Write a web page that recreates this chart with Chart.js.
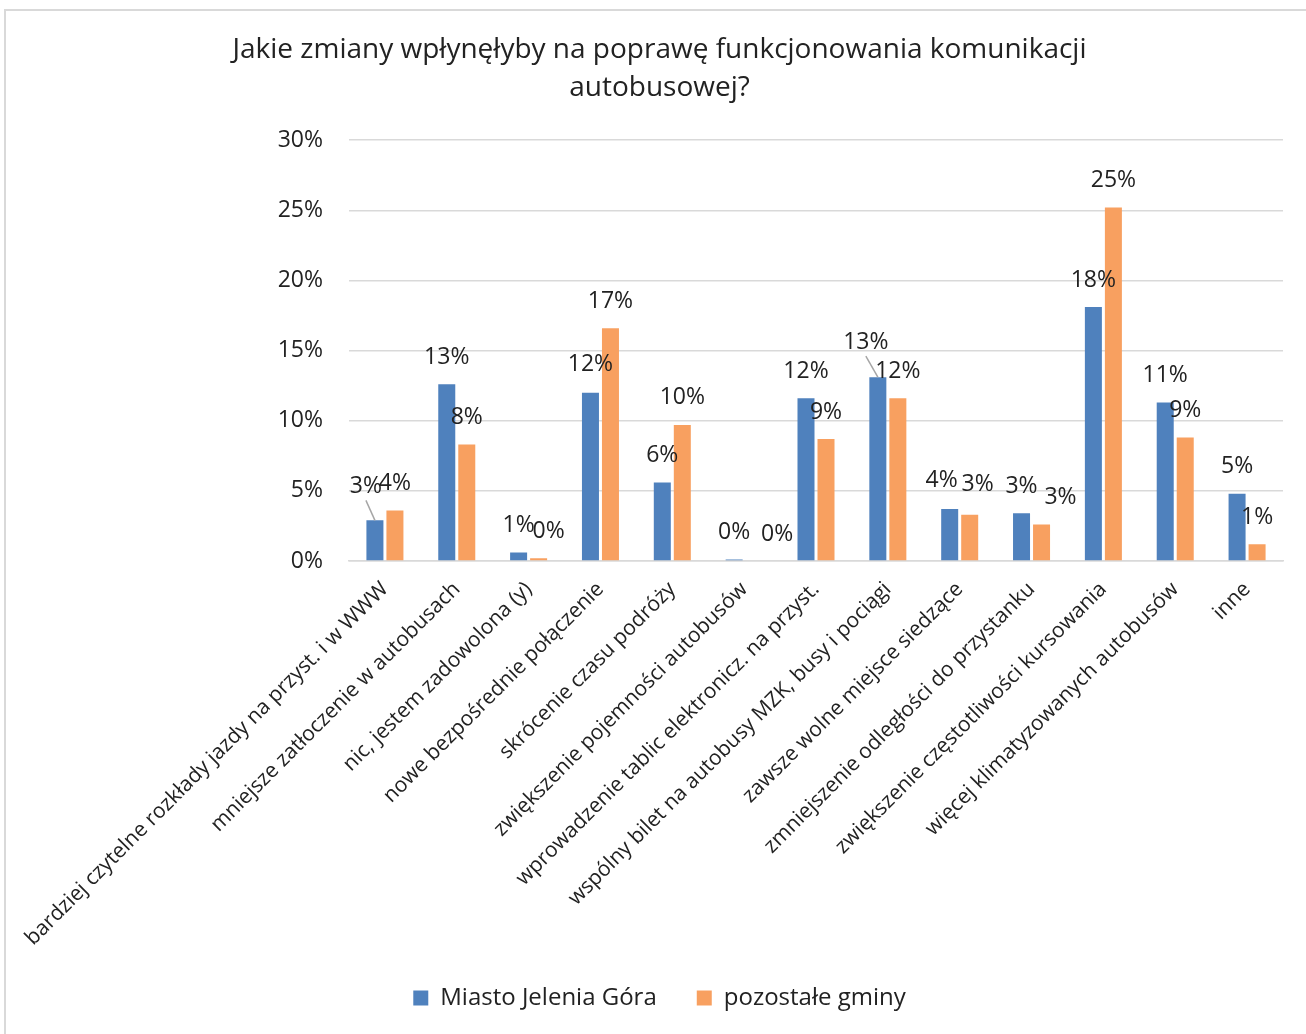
<!DOCTYPE html>
<html>
<head>
<meta charset="utf-8">
<script src="https://cdn.jsdelivr.net/npm/chart.js@4.4.0/dist/chart.umd.min.js"></script>
<style>
    body { margin: 0; background: #fff; }
    #ramka { position: absolute; left: 4px; top: 9px; width: 1320px; height: 1040px; border: 2px solid #d9d9d9; }
    #wrap { position: absolute; left: 0; top: 0; width: 1306px; height: 1034px; }
</style>
</head>
<body>
<div id="ramka"></div>
<div id="wrap"><canvas id="chart_zmiany" width="1306" height="1034"></canvas></div>
<script>
// kategorie odpowiedzi
const kategorie = [
    "bardziej czytelne rozkłady jazdy na przyst. i w WWW",
    "mniejsze zatłoczenie w autobusach",
    "nic, jestem zadowolona (y)",
    "nowe bezpośrednie połączenie",
    "skrócenie czasu podróży",
    "zwiększenie pojemności autobusów",
    "wprowadzenie tablic elektronicz. na przyst.",
    "wspólny bilet na autobusy MZK, busy i pociągi",
    "zawsze wolne miejsce siedzące",
    "zmniejszenie odległości do przystanku",
    "zwiększenie częstotliwości kursowania",
    "więcej klimatyzowanych autobusów",
    "inne"
];

// wartości w %
const miasto = [2.9, 12.6, 0.6, 12.0, 5.6, 0.1, 11.6, 13.1, 3.7, 3.4, 18.1, 11.3, 4.8];
const gminy  = [3.6, 8.3, 0.2, 16.6, 9.7, 0, 8.7, 11.6, 3.3, 2.6, 25.2, 8.8, 1.2];

// podziałka osi Y
const osY = [0, 5, 10, 15, 20, 25, 30];

// przesunięcia etykiet danych (jak w oryginale)
const dxMiasto = [-9, 0, 0, 0, 0, 0, 0, -12, -8, 0, 0, 0, 0];
const dyMiasto = [-7, 0, 0, -1, 0, 0, 0, -8, -2, 0, 0, 0, 0];
const dxGminy  = [0, 0, 10, 0, 0, 23, 0, 0, 8, 19, 0, 0, 0];
const dyGminy  = [0, 0, 0, 0, 0, 0, 0, 0, -3, 0, 0, 0, 0];
const liniaMiasto = [true, false, false, false, false, false, false, true, false, false, false, false, false];

const FONT = "'Open Sans', 'Noto Sans', sans-serif";
const TXT = '#222222';

// etykiety wartości nad słupkami
const etykiety = {
    id: 'etykiety',
    afterDatasetsDraw(chart) {
        const ctx = chart.ctx;
        const przes = [[dxMiasto, dyMiasto], [dxGminy, dyGminy]];
        ctx.save();
        ctx.font = '23px ' + FONT;
        ctx.fillStyle = TXT;
        ctx.textAlign = 'center';
        ctx.textBaseline = 'middle';
        chart.data.datasets.forEach(function (ds, i) {
            chart.getDatasetMeta(i).data.forEach(function (bar, j) {
                const x = bar.x + przes[i][0][j];
                const y = bar.y - 27 + przes[i][1][j];
                if (i === 0 && liniaMiasto[j]) {
                    ctx.strokeStyle = '#a6a6a6';
                    ctx.lineWidth = 1.5;
                    ctx.beginPath();
                    ctx.moveTo(x, y + 14);
                    ctx.lineTo(bar.x, bar.y);
                    ctx.stroke();
                }
                ctx.fillText(Math.round(ds.data[j]) + '%', x, y);
            });
        });
        ctx.restore();
    }
};

const ctd = document.getElementById('chart_zmiany');
new Chart(ctd, {
    type: 'bar',
    data: {
        labels: kategorie,
        datasets: [{
            label: 'Miasto Jelenia Góra',
            backgroundColor: '#4F81BD',
            data: miasto,
            barPercentage: 0.85,
            categoryPercentage: 0.557
        }, {
            label: 'pozostałe gminy',
            backgroundColor: '#F8A060',
            data: gminy,
            barPercentage: 0.85,
            categoryPercentage: 0.557
        }]
    },
    options: {
        responsive: false,
        animation: false,
        layout: { padding: { top: 31, right: 23, bottom: 14, left: 36 } },
        plugins: {
            title: {
                display: true,
                text: ['Jakie zmiany wpłynęłyby na poprawę funkcjonowania komunikacji', 'autobusowej?'],
                color: TXT,
                font: { family: FONT, size: 28, weight: 'normal', lineHeight: 1.36 },
                padding: { top: 0, bottom: 33 }
            },
            legend: {
                position: 'bottom',
                labels: {
                    color: TXT,
                    font: { family: FONT, size: 24 },
                    boxWidth: 15,
                    boxHeight: 15,
                    padding: 40
                }
            },
            tooltip: { enabled: false }
        },
        scales: {
            x: {
                grid: { display: false },
                border: { color: '#d9d9d9', width: 1.5 },
                ticks: {
                    color: TXT,
                    font: { family: FONT, size: 21 },
                    maxRotation: 45,
                    minRotation: 45,
                    autoSkip: false,
                    padding: 8
                },
                afterFit: function (s) { s.height = 385; }
            },
            y: {
                min: 0,
                max: 30,
                afterBuildTicks: function (s) { s.ticks = osY.map(function (v) { return { value: v }; }); },
                grid: { color: '#d9d9d9', lineWidth: 1.5, drawTicks: false },
                border: { display: false },
                ticks: {
                    color: TXT,
                    font: { family: FONT, size: 23 },
                    padding: 26,
                    callback: function (v) { return v + '%'; }
                },
                afterFit: function (s) { s.width = 313; }
            }
        }
    },
    plugins: [etykiety]
});
</script>
</body>
</html>
